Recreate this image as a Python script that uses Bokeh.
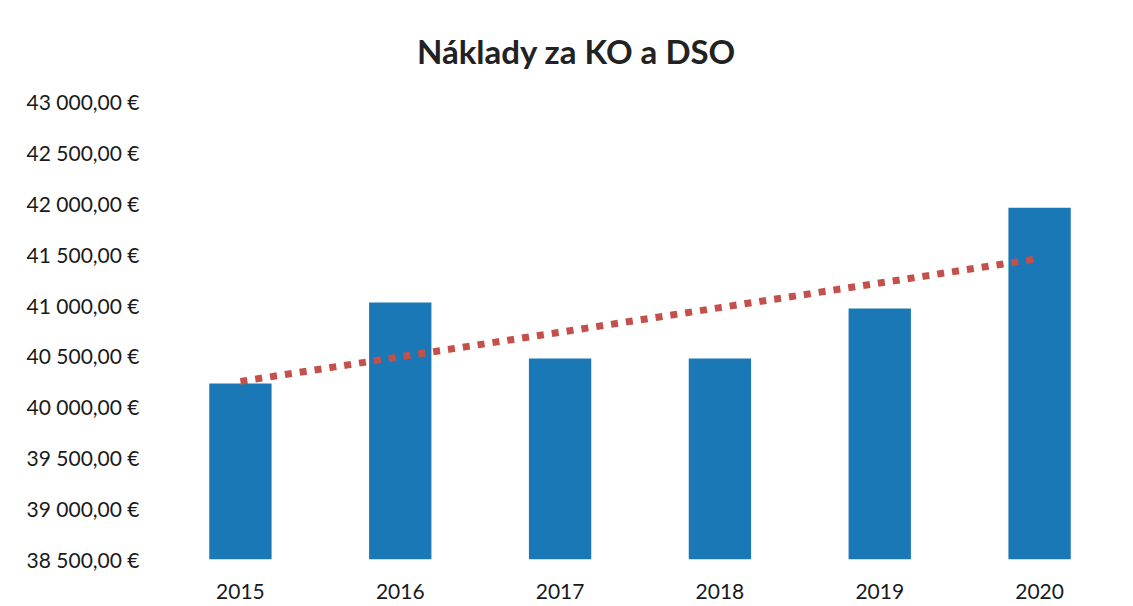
from bokeh.plotting import figure
from bokeh.models import FactorRange, Range1d, FixedTicker, Label
from bokeh.embed import file_html
from bokeh.resources import INLINE
import numpy as np

# ---- data ----
years = ["2015", "2016", "2017", "2018", "2019", "2020"]
costs = [40229, 41024, 40475, 40475, 40965, 41957]
y_ticks = [38500, 39000, 39500, 40000, 40500, 41000, 41500, 42000, 42500, 43000]
y_tick_labels = ["38 500,00 €", "39 000,00 €", "39 500,00 €", "40 000,00 €", "40 500,00 €",
                 "41 000,00 €", "41 500,00 €", "42 000,00 €", "42 500,00 €", "43 000,00 €"]
title_text = "Náklady za KO a DSO"

# linear trend (as the spreadsheet's linear trendline)
idx = np.arange(len(costs))
slope, intercept = np.polyfit(idx, costs, 1)
trend = list(intercept + slope * idx)

FONT = "Lato"

# frame spans from the top of the canvas down to the value 38 500;
# the axis values 38 500 .. 43 000 occupy the lower 458 px of it
FRAME_H = 559
AXIS_PX = 458
y_min = y_ticks[0]
y_max = y_min + (y_ticks[-1] - y_ticks[0]) * FRAME_H / AXIS_PX

p = figure(
    x_range=FactorRange(*years, range_padding=0),
    y_range=Range1d(y_min, y_max),
    frame_width=959, frame_height=FRAME_H,
    min_border_left=160, min_border_right=14, min_border_top=0, min_border_bottom=0,
    output_backend="svg", toolbar_location=None,
    background_fill_color="white", border_fill_color="white",
)
p.outline_line_color = None
p.xgrid.grid_line_color = None
p.ygrid.grid_line_color = None

p.vbar(x=years, top=costs, bottom=y_min, width=0.39, color="#1b78b6", line_color=None)
p.line(x=years, y=trend, line_color="#c4504c", line_width=7, line_dash="7 8")

# y axis
p.yaxis.ticker = FixedTicker(ticks=y_ticks)
p.yaxis.major_label_overrides = {t: l for t, l in zip(y_ticks, y_tick_labels)}
p.yaxis.axis_line_color = None
p.yaxis.major_tick_line_color = None
p.yaxis.minor_tick_line_color = None
p.yaxis.major_tick_out = 0
p.yaxis.major_label_standoff = 21
p.yaxis.major_label_text_font = FONT
p.yaxis.major_label_text_font_size = "21px"
p.yaxis.major_label_text_color = "#1a1a1a"

# x axis
p.xaxis.axis_line_color = None
p.xaxis.major_tick_line_color = None
p.xaxis.major_tick_out = 0
p.xaxis.major_label_standoff = 24
p.xaxis.major_label_text_font = FONT
p.xaxis.major_label_text_font_size = "21px"
p.xaxis.major_label_text_color = "#1a1a1a"

# title, placed relative to the frame (screen units, y up from frame bottom)
p.add_layout(Label(x=416, y=FRAME_H - 50, x_units="screen", y_units="screen", text=title_text,
                   text_font=FONT, text_font_style="bold", text_font_size="33px",
                   text_color="#222222", text_align="center", text_baseline="middle"))

open("out.html", "w").write(file_html(p, INLINE))
